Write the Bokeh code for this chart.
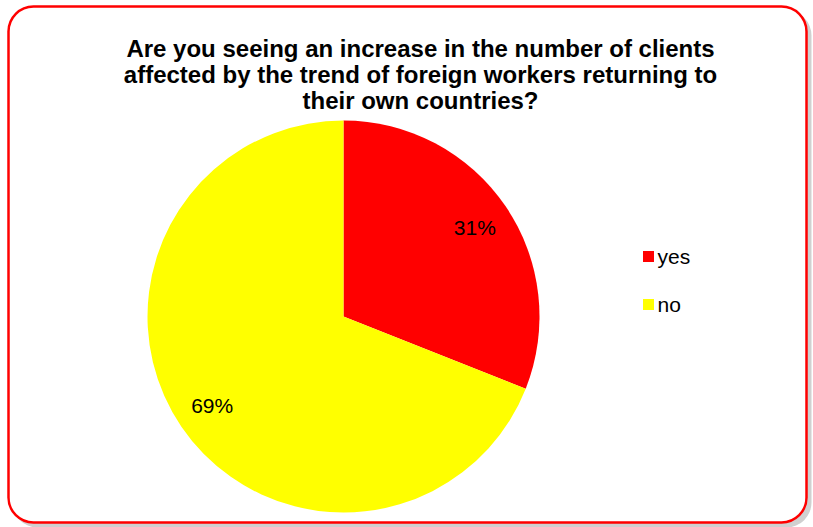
import math
from bokeh.plotting import figure
from bokeh.models import Range1d, BoxAnnotation, ColumnDataSource
from bokeh.core.properties import value
from bokeh.embed import file_html
from bokeh.resources import INLINE

categories = ["yes", "no"]
percent = [31, 69]
colors = ["#FF0000", "#FFFF00"]
title_lines = [
    "Are you seeing an increase in the number of clients",
    "affected by the trend of foreign workers returning to",
    "their own countries?",
]

W, H = 813, 527
p = figure(width=W, height=H, output_backend="svg", toolbar_location=None,
           x_range=Range1d(0, W), y_range=Range1d(0, H), min_border=0)
p.axis.visible = False
p.grid.visible = False
p.outline_line_color = None
p.background_fill_color = "white"
p.border_fill_color = "white"

# frame with shadow
shadow = BoxAnnotation(left=12, right=811, bottom=0, top=H - 10,
                       fill_color="#d0d0d0", fill_alpha=1, line_color=None,
                       border_radius=25, level="underlay")
frame = BoxAnnotation(left=8, right=806, bottom=5, top=H - 6,
                      fill_color="white", fill_alpha=1, line_color="#FF0000",
                      line_alpha=1, line_width=2.5, border_radius=25,
                      level="underlay")
p.add_layout(shadow)
p.add_layout(frame)

cx, cy, r = 343, H - 316, 196
total = sum(percent)
starts, ends, lx, ly, labels = [], [], [], [], []
cum = 0
for v in percent:
    a0 = math.pi / 2 - 2 * math.pi * (cum + v) / total
    a1 = math.pi / 2 - 2 * math.pi * cum / total
    starts.append(a0)
    ends.append(a1)
    mid = (a0 + a1) / 2
    lx.append(cx + 0.81 * r * math.cos(mid))
    ly.append(cy + 0.81 * r * math.sin(mid))
    labels.append(f"{v}%")
    cum += v

src = ColumnDataSource(dict(start=starts, end=ends, color=colors,
                            lx=lx, ly=ly, label=labels))
p.wedge(x=cx, y=cy, radius=r, start_angle="start", end_angle="end",
        fill_color="color", line_color=None, source=src)
p.text(x="lx", y="ly", text="label", source=src, text_align="center",
       text_baseline="middle", text_font=value("Liberation Sans"),
       text_font_size="21px", text_color="black")

# title
ty = [H - 48, H - 74, H - 100]
p.text(x=[420] * 3, y=ty, text=title_lines, text_align="center",
       text_baseline="middle", text_font=value("Liberation Sans"),
       text_font_style="bold", text_font_size="24px", text_color="black")

# legend
leg_y = [H - 256, H - 304]
p.rect(x=[648] * 2, y=leg_y, width=11, height=11, fill_color=colors,
       line_color=None)
p.text(x=[657] * 2, y=leg_y, text=categories, text_align="left",
       text_baseline="middle", text_font=value("Liberation Sans"),
       text_font_size="21px", text_color="black")

open("out.html", "w").write(file_html(p, INLINE))
